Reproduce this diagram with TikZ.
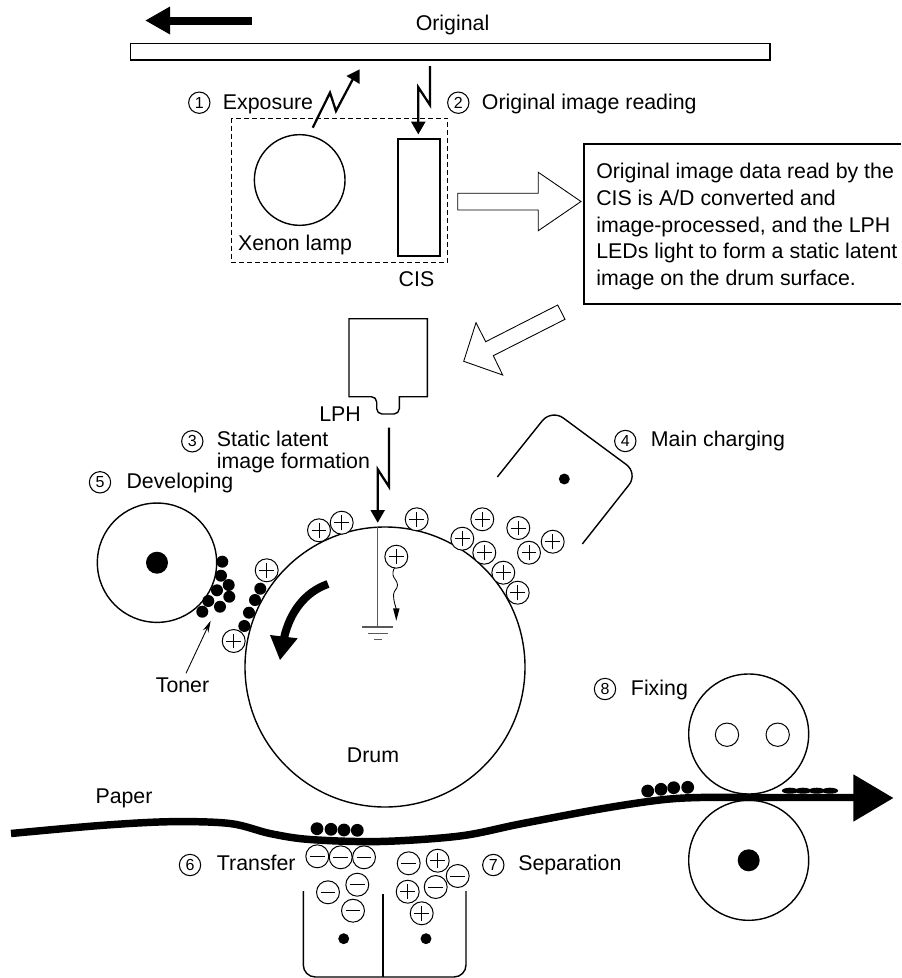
\documentclass[tikz,border=0pt]{standalone}
\usepackage{fontspec}
\setmainfont{Liberation Sans}
\usetikzlibrary{arrows.meta}
\tikzset{
  lbl/.style={anchor=base west,inner sep=0pt,font=\fontsize{16}{20}\selectfont},
  clbl/.style={anchor=base,inner sep=0pt,font=\fontsize{16}{20}\selectfont},
  numc/.style={circle,draw,line width=.8pt,minimum size=16pt,inner sep=0pt,font=\fontsize{12}{12}\selectfont},
  outline/.style={line width=1.05pt},
  thinline/.style={line width=.65pt},
  bolt/.style={line width=1.7pt,miter limit=6},
  roller/.style={circle,draw,line width=1.05pt,inner sep=0pt},
  solid dot/.style={circle,fill=black,inner sep=0pt},
  tonerdot/.style={solid dot,minimum size=9.6pt},
  chgbase/.style={circle,draw,fill=white,line width=.75pt,minimum size=17.2pt,inner sep=0pt},
  chgplus/.style={chgbase,path picture={
    \draw[line width=.7pt] ([xshift=-5.6pt]path picture bounding box.center)--([xshift=5.6pt]path picture bounding box.center);
    \draw[line width=.7pt] ([yshift=-5.6pt]path picture bounding box.center)--([yshift=5.6pt]path picture bounding box.center);}},
  chgminus/.style={chgbase,path picture={
    \draw[line width=.7pt] ([xshift=-5.6pt]path picture bounding box.center)--([xshift=5.6pt]path picture bounding box.center);}},
}
\begin{document}
\begin{tikzpicture}[x=.75pt,y=-.75pt]
\useasboundingbox (0,0) rectangle (901,978);
% direction arrow of the original
\coordinate (dirA) at (252,20.5);
\coordinate (dirB) at (168,20.5);
\draw[line width=6pt] (dirA)--(dirB);
\fill (145.5,20.5)--(170,6.5)--(170,34.5)--cycle;
% original
\node[clbl] (orig) at (452.5,31) {Original};
\draw[outline,line width=1.2pt] (130.5,43.5) rectangle (770,60);
% exposure
\node[numc] (n1) at (199.3,102.7) {1};
\node[lbl] (t1) at (222.7,109) {Exposure};
\draw[bolt] (312.7,127.7)--(330,92.7)--(336,111)--(354,77);
\fill (359.7,69.3)--(359.7,84)--(346.5,76)--cycle;
\node[numc] (n2) at (458.3,102.7) {2};
\node[lbl] (t2) at (481.7,109) {Original image reading};
\draw[bolt] (430,66)--(430,105)--(418.3,87.3)--(418.3,123);
\fill (418.3,134.3)--(411,121.7)--(425.6,121.7)--cycle;
% CIS unit
\draw[line width=.8pt,dash pattern=on 3.6pt off 2.4pt] (231.7,118.3) rectangle (447.7,262.7);
\node[roller,minimum size=68pt] (lamp) at (299.7,180) {};
\draw[outline,line width=1.2pt] (397.7,138.7) rectangle (440,256);
\node[clbl] (xe) at (295,250.7) {Xenon lamp};
\node[clbl] (cis) at (416.5,286) {CIS};
% hollow arrows
\draw[thinline] (457.7,193.3)--(538.3,193.3)--(538.3,172.3)--(581,201.5)--(538.3,230.7)--(538.3,210)--(457.7,210)--cycle;
\draw[thinline] (557.7,305)--(565,319.3)--(493.3,355.7)--(502.7,375)--(463.7,361.3)--(476,322.7)--(485.7,341.7)--cycle;
% text box
\draw[line width=1.2pt] (901,144)--(583.7,144)--(583.7,304)--(901,304);
\node[anchor=north west,inner sep=0pt,align=left,font=\fontsize{16}{20}\selectfont] (box) at (596,163)
 {Original image data read by the\\CIS is A/D converted and\\image-processed, and the LPH\\LEDs light to form a static latent\\image on the drum surface.};
% LPH
\draw[outline] (349,318.7)--(427.3,318.7)--(427.3,396.7)--(399.3,396.7)
  [rounded corners=4pt]--(399.3,414)--(376.7,414)--(376.7,396.7)[sharp corners]--(349,396.7)--cycle;
\node[clbl] (lph) at (340,421.7) {LPH};
\node[numc] (n3) at (192.3,441.3) {3};
\node[lbl] (t3a) at (216.7,446.7) {Static latent};
\node[lbl] (t3b) at (216.7,468) {image formation};
\draw[bolt] (389,427.7)--(389,486.7)--(377.7,469.3)--(377.7,512);
\fill (377.7,522.7)--(370.4,510)--(385,510)--cycle;
% drum
\node[roller,minimum size=210pt] (drum) at (385,667) {};
\coordinate (gndtop) at (377.7,527.2);
\coordinate (gnd) at (377.7,627);
\draw[line width=.85pt,black!65] (gndtop)--(gnd);
\draw[line width=.85pt,black!65] (362.3,627)--(392.7,627) (368.3,633.3)--(387.7,633.3) (374,639.3)--(382,639.3);
\node[clbl] (drumt) at (373,762.7) {Drum};
% rotation arrow
\draw[line width=6pt] (328,584) .. controls (305,592) and (290,612) .. (284,638);
\fill (280,660)--(270,635)--(297.7,638.3)--cycle;
% main charger
\draw[outline,rounded corners=11pt] (497.3,477)--(551.5,409.3)--(638.1,473.3)--(582.3,544);
\node[solid dot,minimum size=8.2pt] (cdot) at (564.3,479) {};
\node[numc] (n4) at (625.3,441) {4};
\node[lbl] (t4) at (650.7,446.7) {Main charging};
% developing
\node[roller,minimum size=89.5pt] (dev) at (157,562.7) {};
\node[solid dot,minimum size=16.5pt] (devdot) at (157,562.7) {};
\node[numc] (n5) at (100,482.3) {5};
\node[lbl] (t5) at (126.3,488) {Developing};
\foreach \x/\y [count=\i] in {222.3/561.7,221/575.7,228.7/585,217/590.3,229.3/596.7,208.3/601,220/606.7,202.3/611.7,260.3/588.7,255/600,249/612.7,244.3/626}
  \node[tonerdot,minimum size=9pt] (td\i) at (\x,\y) {};
\coordinate (tonerA) at (186,673.3);
\coordinate (tonerB) at (210.7,620.7);
\draw[thinline,-{Stealth[length=9pt,width=4.5pt]}] (tonerA)--(tonerB);
\node[clbl] (tonert) at (182.5,692.3) {Toner};
% charges
\foreach \x/\y [count=\i] in {319/530.3,341.7/522.7,416.7/519.3,482.3/519.3,462.3/538.7,484.3/552.7,518.3/528,529/552.7,552.7/541.7,503.3/572.7,517.7/592.7,396.3/556.7,266.7/570.3,233.7/641}
  \node[chgplus] (pl\i) at (\x,\y) {};
\coordinate (wavyend) at (396.3,620.7);
\draw[line width=.65pt] plot[smooth,tension=.8] coordinates {(394.5,568) (393,575) (397.5,585) (393.5,595) (396.3,609)};
\fill (wavyend)--(393,608.3)--(399.6,608.3)--cycle;
% paper
\draw[line width=5.6pt] plot[smooth,tension=.55] coordinates {(11,833.5) (100,825.5) (170,821.7) (230,823.5) (270,833.5) (310,839.5) (380,841.5) (460,836) (520,824) (600,809) (660,800) (700,797.5) (760,797.5) (856,797.5)};
\fill (893.3,798)--(853.3,774.3)--(853.3,821.7)--cycle;
\node[clbl] (paper) at (124,803) {Paper};
% transfer/separation
\foreach \x/\y [count=\i] in {317/828.7,331/829.3,344/830,357.3/830.3}
  \node[tonerdot] (tt\i) at (\x,\y) {};
\foreach \x/\y [count=\i] in {317.3/856.3,340.7/857.3,364/857.3,328/892.3,357.3/884.7,353/910.7,408.7/863.3,457.7/876,435.7/887}
  \node[chgminus] (mi\i) at (\x,\y) {};
\foreach \x/\y [count=\i] in {437.7/860.7,407.7/891.7,421.7/913.3}
  \node[chgplus] (ps\i) at (\x,\y) {};
\draw[outline,rounded corners=9pt] (303.3,891)--(303.3,977)--(466,977)--(466,891);
\draw[outline] (383,894.3)--(383,977);
\node[solid dot,minimum size=8.2pt] (d6) at (343.7,938.7) {};
\node[solid dot,minimum size=8.2pt] (d7) at (426,938.7) {};
\node[numc] (n6) at (190,865) {6};
\node[lbl] (t6) at (216.7,870.7) {Transfer};
\node[numc] (n7) at (493.3,865) {7};
\node[lbl] (t7) at (518,870.7) {Separation};
% fixing
\node[roller,minimum size=90pt] (fixup) at (748.7,734) {};
\node[roller,line width=.75pt,minimum size=17.5pt] (h1) at (727,734.7) {};
\node[roller,line width=.75pt,minimum size=17.5pt] (h2) at (777.7,734.7) {};
\node[roller,minimum size=90pt] (fixlo) at (748.7,860.3) {};
\node[solid dot,minimum size=16.5pt] (fixdot) at (748.7,860.3) {};
\foreach \x/\y [count=\i] in {647.7/791,661/789.3,673.7/787.7,687.7/787.3}
  \node[tonerdot] (tf\i) at (\x,\y) {};
\foreach \x [count=\i] in {790,803,816.7,830}
  \node[circle,fill=black,inner sep=0pt,minimum size=4.5pt,xscale=2.7] (ff\i) at (\x,790.7) {};
\node[numc] (n8) at (605,689) {8};
\node[lbl] (t8) at (630.7,695.7) {Fixing};
\end{tikzpicture}
\end{document}
